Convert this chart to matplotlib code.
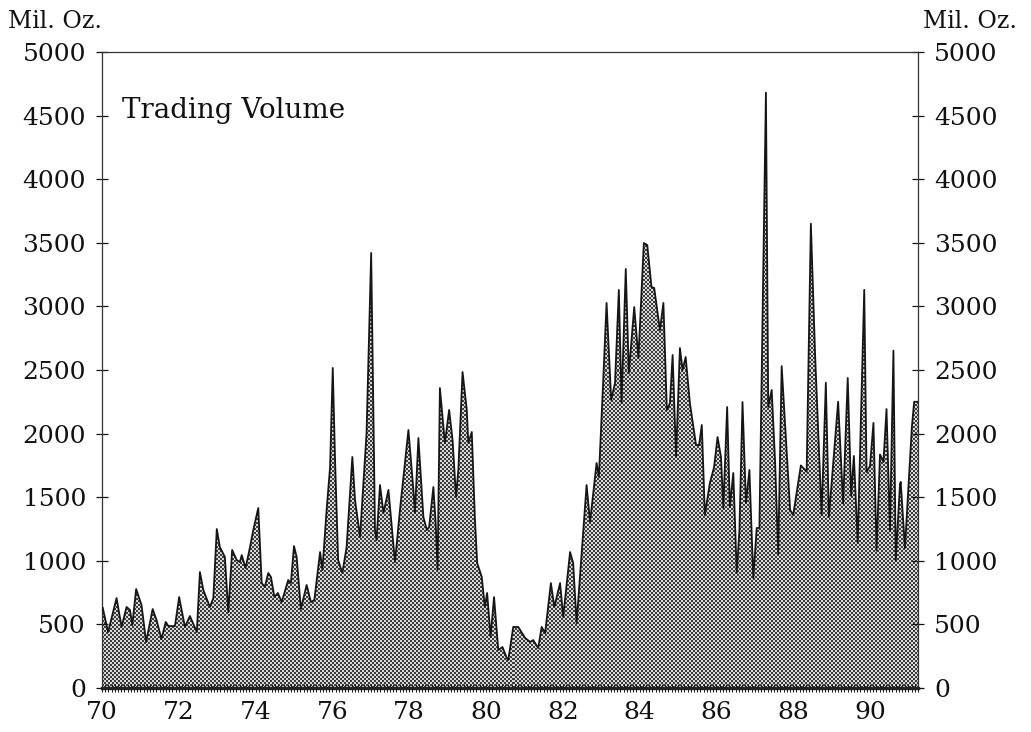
import matplotlib
matplotlib.use("Agg")
import matplotlib.pyplot as plt
import numpy as np
from matplotlib.colors import ListedColormap
from matplotlib.patches import Polygon
from matplotlib.ticker import MultipleLocator

# Monthly silver futures trading volume, million ounces (decimal year, 19xx)
YEAR = [
    70.02, 70.16, 70.38, 70.51, 70.64, 70.73, 70.79, 70.89, 71.03, 71.15,
    71.32, 71.42, 71.55, 71.66, 71.73, 71.90, 72.01, 72.16, 72.29, 72.47,
    72.55, 72.64, 72.81, 72.90, 72.99, 73.07, 73.20, 73.29, 73.39, 73.51,
    73.59, 73.64, 73.74, 73.85, 73.94, 74.07, 74.16, 74.24, 74.33, 74.40,
    74.49, 74.58, 74.68, 74.85, 74.92, 75.00, 75.07, 75.18, 75.33, 75.44,
    75.53, 75.68, 75.74, 75.85, 75.94, 76.01, 76.07, 76.15, 76.26, 76.37,
    76.52, 76.59, 76.72, 76.89, 77.01, 77.11, 77.15, 77.24, 77.33, 77.46,
    77.63, 77.76, 77.98, 78.11, 78.15, 78.24, 78.37, 78.46, 78.52, 78.63,
    78.69, 78.74, 78.80, 78.93, 79.04, 79.13, 79.22, 79.28, 79.39, 79.50,
    79.54, 79.63, 79.71, 79.77, 79.89, 79.97, 80.03, 80.12, 80.21, 80.32,
    80.43, 80.54, 80.58, 80.71, 80.84, 81.02, 81.15, 81.23, 81.36, 81.45,
    81.54, 81.69, 81.78, 81.93, 82.01, 82.19, 82.27, 82.36, 82.62, 82.71,
    82.88, 82.94, 83.05, 83.14, 83.26, 83.36, 83.46, 83.53, 83.64, 83.72,
    83.86, 83.97, 84.11, 84.20, 84.31, 84.38, 84.53, 84.62, 84.71, 84.79,
    84.86, 84.95, 85.05, 85.12, 85.20, 85.31, 85.47, 85.55, 85.62, 85.70,
    85.83, 85.94, 86.03, 86.12, 86.18, 86.28, 86.35, 86.44, 86.53, 86.60,
    86.68, 86.77, 86.86, 86.96, 87.05, 87.12, 87.29, 87.35, 87.44, 87.53,
    87.61, 87.70, 87.92, 88.00, 88.20, 88.35, 88.46, 88.57, 88.74, 88.85,
    88.93, 89.17, 89.30, 89.42, 89.51, 89.58, 89.68, 89.85, 89.91, 90.00,
    90.09, 90.17, 90.26, 90.35, 90.43, 90.52, 90.61, 90.67, 90.78, 90.80,
    90.91, 91.09, 91.15, 91.25,
]
VOLUME = [
    630, 440, 707, 480, 637, 613, 495, 778, 652, 362,
    621, 535, 385, 519, 487, 487, 715, 480, 566, 440,
    912, 770, 637, 707, 1250, 1108, 1030, 597, 1085, 1006,
    990, 1045, 943, 1100, 1242, 1415, 825, 794, 904, 873,
    715, 747, 676, 849, 825, 1116, 1030, 621, 810, 676,
    692, 1069, 928, 1400, 1737, 2516, 1792, 1006, 904, 1108,
    1816, 1478, 1187, 2005, 3420, 1242, 1163, 1596, 1376, 1557,
    990, 1400, 2028, 1557, 1376, 1965, 1344, 1242, 1266, 1580,
    1297, 928, 2358, 1926, 2186, 1950, 1502, 1714, 2484, 2186,
    1926, 2013, 1344, 983, 873, 637, 747, 401, 715, 299,
    322, 236, 220, 480, 480, 393, 362, 377, 314, 480,
    432, 825, 637, 825, 558, 1069, 983, 511, 1596, 1305,
    1769, 1659, 2398, 3027, 2264, 2398, 3129, 2240, 3294, 2476,
    2995, 2594, 3498, 3482, 3152, 3145, 2814, 3027, 2186, 2240,
    2618, 1816, 2673, 2500, 2602, 2240, 1910, 1910, 2068, 1360,
    1612, 1737, 1973, 1816, 1415, 2209, 1423, 1690, 904, 1242,
    2248, 1454, 1714, 865, 1258, 1258, 4680, 2209, 2343, 1769,
    1050, 2530, 1400, 1360, 1750, 1700, 3650, 2622, 1360, 2400,
    1344, 2250, 1450, 2437, 1510, 1824, 1140, 3130, 1698, 1745,
    2084, 1080, 1836, 1777, 2193, 1234, 2652, 1000, 1600, 1620,
    1100, 2050, 2250, 2250,
]
Y_TICKS = list(range(0, 5001, 500))
X_TICKS = list(range(70, 91, 2))
X_MIN, X_MAX = 70, 91.25

plt.rcParams["font.family"] = "DejaVu Serif"
plt.rcParams["text.color"] = "#111111"

fig = plt.figure(figsize=(10.31, 7.32), dpi=100)
ax = fig.add_axes([0.0989, 0.0601, 0.7915, 0.8689])
ax.set_xlim(X_MIN, X_MAX)
ax.set_ylim(0, 5000)

# halftone screen under the curve, 2 px cells sized to the axes in pixels
fig.canvas.draw()
bb = ax.get_window_extent()
h_px, w_px = int(round(bb.height)), int(round(bb.width))
ii, jj = np.indices((h_px, w_px))
screen = ((ii // 2) + (jj // 2)) % 2
im = ax.imshow(screen, extent=(X_MIN, X_MAX, 0, 5000), aspect="auto",
               cmap=ListedColormap(["#3c3c3c", "#d9d9d9"]),
               interpolation="nearest", zorder=1)
verts = np.column_stack([np.r_[YEAR[0], YEAR, YEAR[-1]],
                         np.r_[0, VOLUME, 0]])
area = Polygon(verts, closed=True, facecolor="none", edgecolor="none",
               transform=ax.transData)
ax.add_patch(area)
im.set_clip_path(area)
ax.plot(YEAR, VOLUME, color="#151515", lw=1.3, zorder=3)

ax.set_xlim(X_MIN, X_MAX)
ax.set_ylim(0, 5000)

for side in ("left", "right", "top"):
    ax.spines[side].set_linewidth(0.9)
    ax.spines[side].set_color("#333333")
ax.spines["bottom"].set_linewidth(2.4)
ax.spines["bottom"].set_color("#222222")

ax.set_yticks(Y_TICKS)
ax.set_yticklabels([str(v) for v in Y_TICKS])
ax.tick_params(axis="y", direction="inout", length=9, width=0.9,
               left=True, right=True, labelleft=True, labelright=True,
               labelsize=18, pad=7, colors="#111111")

ax.set_xticks(X_TICKS)
ax.set_xticklabels([str(v) for v in X_TICKS])
ax.xaxis.set_minor_locator(MultipleLocator(1 / 12))
ax.tick_params(axis="x", which="both", direction="inout", length=6,
               width=0.7, labelsize=18, pad=6, colors="#111111")

fig.text(8 / 1031, 1 - 28 / 732, "Mil. Oz.", ha="left", va="baseline",
         fontsize=17)
fig.text(1017 / 1031, 1 - 28 / 732, "Mil. Oz.", ha="right", va="baseline",
         fontsize=17)
fig.text(122 / 1031, 1 - 118 / 732, "Trading Volume", ha="left",
         va="baseline", fontsize=20)

fig.savefig("out.png", dpi=100)
